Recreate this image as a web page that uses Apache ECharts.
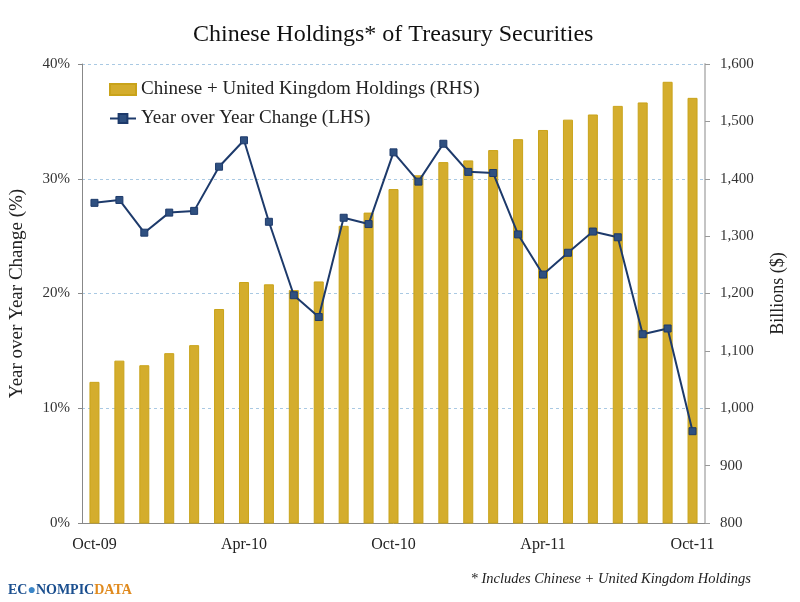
<!DOCTYPE html>
<html>
<head>
<meta charset="utf-8">
<script src="https://cdn.jsdelivr.net/npm/echarts@6/dist/echarts.min.js"></script>
<style>
  html, body { margin: 0; padding: 0; background: #fff; }
  #chart { width: 800px; height: 602px; }
</style>
</head>
<body>
<div id="chart"></div>
<script>
// months Oct-09 .. Oct-11
const months = ['Oct-09', 'Nov-09', 'Dec-09', 'Jan-10', 'Feb-10', 'Mar-10', 'Apr-10', 'May-10', 'Jun-10',
  'Jul-10', 'Aug-10', 'Sep-10', 'Oct-10', 'Nov-10', 'Dec-10', 'Jan-11', 'Feb-11', 'Mar-11', 'Apr-11',
  'May-11', 'Jun-11', 'Jul-11', 'Aug-11', 'Sep-11', 'Oct-11']

// Chinese + UK holdings, billions (RHS)
const holdings = [1046, 1083, 1075, 1096, 1110, 1173, 1220, 1216, 1206, 1221, 1318, 1341, 1382,
  1406, 1429, 1432, 1450, 1469, 1485, 1503, 1512, 1527, 1533, 1569, 1541]

// year over year change, % (LHS)
const yoyChange = [27.9, 28.15, 25.3, 27.05, 27.2, 31.05, 33.35, 26.25, 19.85, 17.95, 26.6, 26.05, 32.3,
  29.75, 33.05, 30.6, 30.5, 25.15, 21.65, 23.55, 25.4, 24.9, 16.45, 16.95, 8.0]

const serif = '"Liberation Serif", "DejaVu Serif", serif'

let chart = echarts.init(document.getElementById('chart'))

let option = {
  backgroundColor: '#fff',
  animation: false,
  title: {
    text: 'Chinese Holdings* of Treasury Securities',
    left: 188,
    top: 18,
    textStyle: {fontFamily: serif, fontSize: 24, fontWeight: 'normal', color: '#111'}
  },
  legend: {
    orient: 'vertical',
    left: 104,
    top: 75,
    itemWidth: 26,
    itemHeight: 11,
    itemGap: 10,
    textStyle: {fontFamily: serif, fontSize: 19, color: '#222'},
    data: [
      {name: 'Chinese + United Kingdom Holdings (RHS)', icon: 'rect'},
      {name: 'Year over Year Change (LHS)'}
    ]
  },
  grid: {left: 82, right: 95, top: 64, bottom: 79},
  xAxis: {
    type: 'category',
    data: months,
    boundaryGap: true,
    axisLine: {lineStyle: {color: '#888', width: 1}},
    axisTick: {interval: 5, length: 4, lineStyle: {color: '#888'}},
    axisLabel: {interval: 5, margin: 14, fontFamily: serif, fontSize: 16, color: '#222'}
  },
  yAxis: [{
    type: 'value',
    min: 0,
    max: 40,
    interval: 10,
    position: 'left',
    name: 'Year over Year Change (%)',
    nameLocation: 'middle',
    nameGap: 55,
    nameTextStyle: {fontFamily: serif, fontSize: 19, color: '#222'},
    axisLine: {show: true, lineStyle: {color: '#888'}},
    axisTick: {show: true, length: 4, lineStyle: {color: '#888'}},
    axisLabel: {formatter: '{value}%', margin: 12, fontFamily: serif, fontSize: 15, color: '#333'},
    splitLine: {lineStyle: {color: '#A9C9E3', type: [3, 3], width: 1}}
  }, {
    type: 'value',
    min: 800,
    max: 1600,
    interval: 100,
    position: 'right',
    name: 'Billions ($)',
    nameLocation: 'middle',
    nameGap: 64,
    nameRotate: 90,
    nameTextStyle: {fontFamily: serif, fontSize: 18, color: '#222'},
    axisLine: {show: true, lineStyle: {color: '#C4C4C4', width: 2}},
    axisTick: {show: true, length: 5, lineStyle: {color: '#999'}},
    axisLabel: {
      margin: 15, fontFamily: serif, fontSize: 15, color: '#333',
      formatter: v => v.toLocaleString('en-US')
    },
    splitLine: {show: false}
  }],
  series: [{
    name: 'Chinese + United Kingdom Holdings (RHS)',
    type: 'bar',
    yAxisIndex: 1,
    data: holdings,
    barWidth: 10,
    itemStyle: {color: '#D4AD2D', borderColor: '#C9A31A', borderWidth: 1}
  }, {
    name: 'Year over Year Change (LHS)',
    type: 'line',
    yAxisIndex: 0,
    data: yoyChange,
    symbol: 'rect',
    symbolSize: 7,
    lineStyle: {color: '#1D3A6B', width: 2},
    itemStyle: {color: '#2F5080', borderColor: '#1D3A6B', borderWidth: 1}
  }],
  graphic: [{
    type: 'text',
    right: 49,
    top: 572,
    style: {
      text: '* Includes Chinese + United Kingdom Holdings',
      font: 'italic 14.5px "Liberation Serif", serif',
      fill: '#222'
    }
  }, {
    type: 'text',
    left: 8,
    top: 583,
    style: {
      rich: {
        b: {fontFamily: serif, fontWeight: 'bold', fontSize: 14, fill: '#1B4F8F'},
        g: {fontFamily: serif, fontWeight: 'bold', fontSize: 14, fill: '#3B86C8'},
        o: {fontFamily: serif, fontWeight: 'bold', fontSize: 14, fill: '#E08A1E'}
      },
      text: '{b|EC}{g|●}{b|NOMPIC}{o|DATA}'
    }
  }]
}

chart.setOption(option)
</script>
</body>
</html>
